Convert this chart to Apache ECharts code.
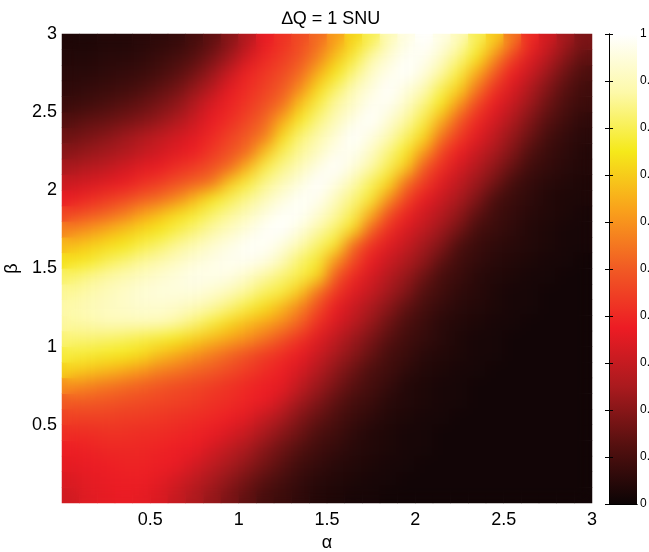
<!DOCTYPE html>
<html><head><meta charset="utf-8">
<script src="https://cdn.jsdelivr.net/npm/echarts@6/dist/echarts.min.js"></script>
<style>
html,body{margin:0;padding:0;background:#fff}
#wrap{position:relative;width:649px;height:552px}
#c{position:absolute;left:0;top:0;width:649px;height:552px}
#clip{position:absolute;left:62px;top:34px;width:530px;height:469px;overflow:hidden}
#h{width:530px;height:469px;filter:blur(8px)}
</style>
</head><body><div id="wrap"><div id="c"></div><div id="clip"><div id="h"></div></div></div>
<script>
// cell centres
const alphaCenters = [0.05,0.15,0.25,0.35,0.45,0.55,0.65,0.75,0.85,0.95,1.05,1.15,1.25,1.35,1.45,1.55,1.65,1.75,1.85,1.95,2.05,2.15,2.25,2.35,2.45,2.55,2.65,2.75,2.85,2.95];
const betaCenters  = [0.05,0.15,0.25,0.35,0.45,0.55,0.65,0.75,0.85,0.95,1.05,1.15,1.25,1.35,1.45,1.55,1.65,1.75,1.85,1.95,2.05,2.15,2.25,2.35,2.45,2.55,2.65,2.75,2.85,2.95];
// values (percent of max), one row per beta, columns along alpha
const row00 = [32,35,36,37,36,34,30,26,22,18,14,10,8,6,4,3,2,2,1,1,1,1,1,1,1,1,1,1,1,1];
const row01 = [34,36,37,38,38,36,33,29,25,21,17,13,10,7,5,4,3,2,2,1,1,1,1,1,1,1,1,1,1,1];
const row02 = [36,37,38,39,39,38,37,33,29,25,21,17,13,9,7,5,4,3,2,2,1,1,1,1,1,1,1,1,1,1];
const row03 = [38,39,40,40,40,39,38,37,33,29,25,20,16,12,9,7,5,4,3,2,2,1,1,1,1,1,1,1,1,1];
const row04 = [41,41,42,42,41,41,40,39,37,34,30,25,20,16,11,9,6,4,3,2,2,1,1,1,1,1,1,1,1,1];
const row05 = [45,45,45,44,44,43,42,41,40,38,35,30,25,19,15,11,8,6,4,3,2,2,1,1,1,1,1,1,1,1];
const row06 = [50,50,49,48,47,46,45,44,42,41,39,37,31,24,19,14,10,8,5,4,3,2,2,1,1,1,1,1,1,1];
const row07 = [59,57,55,53,51,49,47,46,44,42,40,38,36,29,23,18,13,10,7,4,3,2,2,1,1,1,1,1,1,1];
const row08 = [71,69,67,64,61,57,55,52,50,47,44,41,38,33,27,21,16,11,9,6,4,3,2,2,1,1,1,1,1,1];
const row09 = [78,77,76,75,73,68,64,60,56,52,48,44,41,37,31,25,20,15,10,8,5,4,3,2,2,1,1,1,1,1];
const row10 = [83,83,82,81,79,77,75,71,67,63,59,54,48,42,35,29,23,18,13,9,7,5,3,2,2,1,1,1,1,1];
const row11 = [87,88,90,90,90,90,87,83,78,72,67,63,58,51,41,34,28,22,16,11,8,5,4,3,2,2,1,1,1,1];
const row12 = [88,90,91,92,93,93,92,90,87,83,78,73,66,57,47,37,31,25,20,14,10,7,5,4,3,2,2,1,1,1];
const row13 = [86,88,90,92,94,95,95,95,93,90,86,81,78,69,54,43,35,30,24,19,12,9,6,5,3,2,2,1,1,1];
const row14 = [82,85,87,89,91,93,95,97,97,96,92,87,83,79,72,50,40,33,27,22,16,10,8,5,4,3,2,2,1,1];
const row15 = [74,76,80,83,86,88,91,94,96,98,98,96,90,82,77,60,47,37,31,26,21,14,9,7,5,4,3,2,2,1];
const row16 = [67,70,73,75,79,82,86,89,93,96,99,99,95,89,82,76,53,42,35,30,24,19,11,8,6,5,4,3,2,2];
const row17 = [57,60,64,68,72,75,79,83,87,91,95,99,100,95,88,82,73,52,41,34,29,23,17,10,8,6,4,3,2,2];
const row18 = [46,49,52,56,62,67,73,77,82,86,90,95,99,99,94,87,80,65,48,39,32,27,21,14,9,7,5,4,3,2];
const row19 = [37,40,43,46,50,53,58,66,75,80,85,90,95,99,98,91,84,77,60,46,37,31,25,19,11,8,6,4,3,3];
const row20 = [31,33,35,37,41,44,48,51,55,70,78,85,90,95,100,96,89,81,73,54,44,35,29,23,17,10,7,5,4,3];
const row21 = [25,27,29,32,35,37,41,44,48,53,66,79,85,90,96,100,95,88,80,70,50,41,33,27,21,15,9,7,5,4];
const row22 = [20,22,24,26,29,32,35,38,43,48,53,68,80,86,91,97,98,92,84,76,62,46,38,31,25,19,12,8,6,4];
const row23 = [16,18,20,23,26,29,32,35,40,45,50,56,73,83,88,94,100,96,90,82,73,55,44,36,29,22,16,10,7,5];
const row24 = [12,14,15,17,19,22,26,31,37,41,46,52,64,76,84,90,96,100,94,87,79,65,50,40,33,26,19,13,9,6];
const row25 = [8,9,11,13,15,18,21,27,34,39,43,48,54,69,79,87,92,98,98,92,84,75,60,46,37,30,23,16,11,8];
const row26 = [6,7,8,9,11,14,17,22,28,36,41,45,50,59,73,82,90,95,100,95,90,80,71,55,42,34,26,19,13,9];
const row27 = [5,5,6,7,8,10,13,17,23,31,39,43,47,53,65,75,84,92,97,100,95,87,78,64,50,38,31,23,16,11];
const row28 = [4,4,5,5,6,8,10,13,18,24,33,40,44,49,57,69,78,88,94,99,98,92,84,75,59,45,35,28,20,14];
const row29 = [3,3,4,4,5,6,7,10,14,20,27,37,42,47,53,62,72,80,90,96,100,96,90,80,70,55,40,32,24,18];
const rows = [row00,row01,row02,row03,row04,row05,row06,row07,row08,row09,row10,row11,row12,row13,row14,row15,row16,row17,row18,row19,row20,row21,row22,row23,row24,row25,row26,row27,row28,row29];

const xTickLabels = [0.5, 1, 1.5, 2, 2.5, 3];
const yTickLabels = [0.5, 1, 1.5, 2, 2.5, 3];
const cbarTickLabels = [0, 0.1, 0.2, 0.3, 0.4, 0.5, 0.6, 0.7, 0.8, 0.9, 1];
const hotColors = ['#0c0405','#55100f','#aa1a1e','#ed1c24','#f15a24','#f9a11b','#f5e91a','#fdf9a8','#ffffff'];

const data = [];
rows.forEach((r, j) => r.forEach((v, i) => data.push([i, j, v / 100])));

const FONT = "'Liberation Sans', Arial, sans-serif";
const fmtIn = list => v => list.some(t => Math.abs(t - v) < 1e-6) ? String(+v.toFixed(1)) : '';
const gradStops = hotColors.map((c, i) => ({offset: i / (hotColors.length - 1), color: c}));

const chart = echarts.init(document.getElementById('c'), null, {renderer: 'canvas'});
chart.setOption({
  animation: false,
  backgroundColor: '#fff',
  textStyle: {fontFamily: FONT},
  title: {
    text: '\u2206Q = 1 SNU', left: 326, top: 5, textAlign: 'center',
    textStyle: {fontFamily: FONT, fontSize: 18, fontWeight: 'normal', color: '#000'}
  },
  grid: [
    {left: 62, top: 34, width: 530, height: 469, outerBoundsMode: 'none', containLabel: false},
    {left: 609, top: 34, width: 28, height: 470, outerBoundsMode: 'none', containLabel: false}
  ],
  graphic: [{
    type: 'rect', z: 1, silent: true,
    shape: {x: 609, y: 34, width: 28, height: 470},
    style: {fill: new echarts.graphic.LinearGradient(0, 1, 0, 0, gradStops)}
  }],
  xAxis: [
    {type: 'category', gridIndex: 0, data: alphaCenters, show: false, position: 'top'},
    {type: 'value', gridIndex: 0, min: 0, max: 3, interval: 0.5, position: 'bottom',
     axisLine: {show: false}, axisTick: {show: false}, splitLine: {show: false},
     axisLabel: {formatter: fmtIn(xTickLabels), color: '#000', fontSize: 18, fontFamily: FONT, margin: 8},
     name: '\u03b1', nameLocation: 'middle', nameGap: 29,
     nameTextStyle: {color: '#000', fontSize: 18, fontFamily: FONT}},
    {type: 'value', gridIndex: 1, min: 0, max: 1, show: true, z: 10,
     axisLine: {show: true, lineStyle: {color: '#000', width: 1}}, axisTick: {show: false},
     axisLabel: {show: false}, splitLine: {show: false}, position: 'bottom'},
    {type: 'value', gridIndex: 1, min: 0, max: 1, show: true, z: 10,
     axisLine: {show: true, lineStyle: {color: '#000', width: 1}}, axisTick: {show: false},
     axisLabel: {show: false}, splitLine: {show: false}, position: 'top'}
  ],
  yAxis: [
    {type: 'category', gridIndex: 0, data: betaCenters, show: false, position: 'right'},
    {type: 'value', gridIndex: 0, min: 0, max: 3, interval: 0.5, position: 'left',
     axisLine: {show: false}, axisTick: {show: false}, splitLine: {show: false},
     axisLabel: {formatter: fmtIn(yTickLabels), color: '#000', fontSize: 18, fontFamily: FONT, margin: 5},
     name: '\u03b2', nameLocation: 'middle', nameGap: 41,
     nameTextStyle: {color: '#000', fontSize: 18, fontFamily: FONT}},
    {type: 'value', gridIndex: 1, min: 0, max: 1, interval: 0.1, position: 'right', z: 10,
     axisLine: {show: true, lineStyle: {color: '#000', width: 1}},
     axisTick: {show: true, inside: true, length: 4, lineStyle: {color: '#000'}},
     splitLine: {show: false},
     axisLabel: {formatter: fmtIn(cbarTickLabels), color: '#000', fontSize: 12, fontFamily: FONT, margin: 3}},
    {type: 'value', gridIndex: 1, min: 0, max: 1, interval: 0.1, position: 'left', z: 10,
     axisLine: {show: true, lineStyle: {color: '#000', width: 1}},
     axisTick: {show: true, inside: true, length: 4, lineStyle: {color: '#000'}},
     splitLine: {show: false}, axisLabel: {show: false}}
  ],
  visualMap: {
    type: 'continuous', min: 0, max: 1, seriesIndex: 0, show: false,
    inRange: {color: hotColors}
  },
  series: [{
    type: 'heatmap', xAxisIndex: 0, yAxisIndex: 0, data: data,
    itemStyle: {borderWidth: 0}, emphasis: {disabled: true}
  }]
});

// smoothed copy of the same cells, laid over the plot area
const smooth = echarts.init(document.getElementById('h'), null, {renderer: 'canvas'});
smooth.setOption({
  animation: false,
  backgroundColor: 'transparent',
  grid: {left: 0, top: 0, right: 0, bottom: 0, outerBoundsMode: 'none', containLabel: false},
  xAxis: {type: 'category', data: alphaCenters, show: false},
  yAxis: {type: 'category', data: betaCenters, show: false},
  visualMap: {type: 'continuous', min: 0, max: 1, show: false, inRange: {color: hotColors}},
  series: [{type: 'heatmap', data: data, itemStyle: {borderWidth: 0}, emphasis: {disabled: true}}]
});
</script></body></html>
